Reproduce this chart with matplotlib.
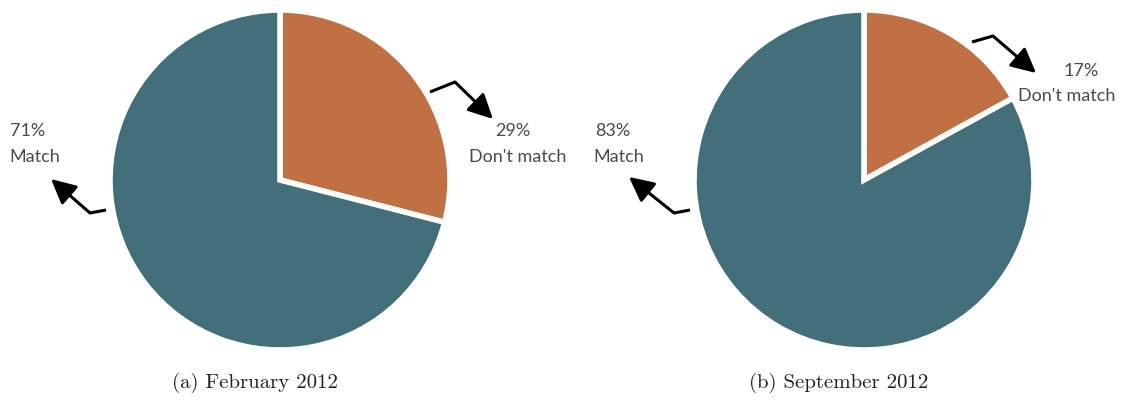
import matplotlib.pyplot as plt

# data
labels = ["Don't match", "Match"]
feb_values = [29, 71]
sep_values = [17, 83]
captions = ["(a) February 2012", "(b) September 2012"]

teal = '#436f7a'
orange = '#c07043'
text_col = '#4a4a4a'

W, H = 1137, 403
fig = plt.figure(figsize=(W / 100, H / 100), dpi=100)
ax = fig.add_axes([0, 0, 1, 1])

def py(y):
    return H - y

lab_font = dict(family='Lato', fontsize=13, color=text_col, ha='center', va='center')

def arrow(pts):
    # polyline with filled arrow head at the end
    xs = [p[0] for p in pts]
    ys = [py(p[1]) for p in pts]
    ax.plot(xs[:-1], ys[:-1], color='black', lw=2.2, solid_capstyle='butt')
    ax.annotate('', xy=(xs[-1], ys[-1]), xytext=(xs[-2], ys[-2]),
                arrowprops=dict(arrowstyle='-|>,head_length=1.5,head_width=0.75',
                                color='black', lw=2.2, shrinkA=0, shrinkB=0))

# left pie
ax.pie(feb_values, colors=[orange, teal], startangle=90, counterclock=False,
       center=(280, py(180)), radius=170, frame=True,
       wedgeprops=dict(edgecolor='white', linewidth=4))
# right pie
ax.pie(sep_values, colors=[orange, teal], startangle=90, counterclock=False,
       center=(864, py(180)), radius=170, frame=True,
       wedgeprops=dict(edgecolor='white', linewidth=4))
ax.set_xlim(0, W)
ax.set_ylim(0, H)
ax.set_aspect('auto')
ax.axis('off')

arrow([(430, 92), (455, 82), (493, 119)])
arrow([(106, 210), (90, 213), (51, 179)])
arrow([(972, 42), (993, 36), (1036, 73)])
arrow([(690, 210), (674, 213), (629, 177)])

ax.text(513, py(131), f"{feb_values[0]}%", **lab_font)
ax.text(518, py(157), labels[0], **lab_font)
ax.text(28, py(131), f"{feb_values[1]}%", **lab_font)
ax.text(35, py(157), labels[1], **lab_font)

ax.text(1081, py(71), f"{sep_values[0]}%", **lab_font)
ax.text(1067, py(96), labels[0], **lab_font)
ax.text(613, py(131), f"{sep_values[1]}%", **lab_font)
ax.text(619, py(157), labels[1], **lab_font)

cap_font = dict(family='cmr10', fontsize=15, color='#222222', ha='center', va='center')
ax.text(255, py(383), captions[0], **cap_font)
ax.text(839, py(383), captions[1], **cap_font)

fig.savefig('out.png', dpi=100)
